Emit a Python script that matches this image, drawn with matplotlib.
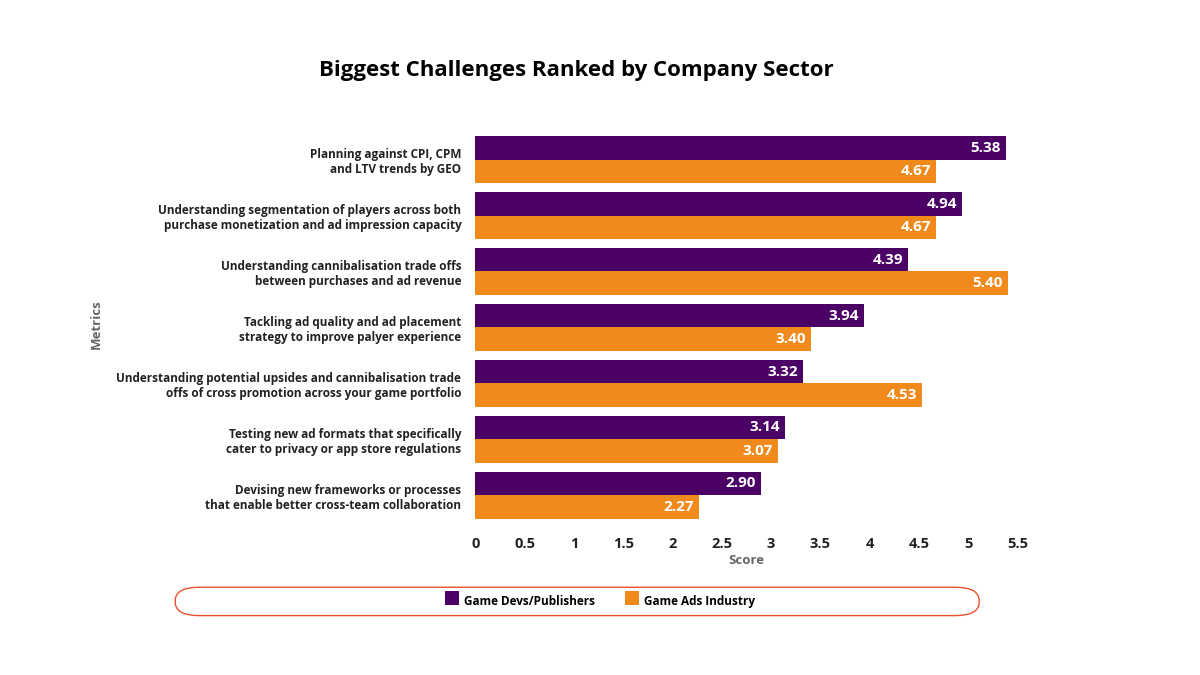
import numpy as np
import matplotlib.pyplot as plt
from matplotlib.patches import FancyBboxPatch

plt.rcParams['font.family'] = ['Open Sans', 'DejaVu Sans']

metrics = [
    "Planning against CPI, CPM\nand LTV trends by GEO",
    "Understanding segmentation of players across both\npurchase monetization and ad impression capacity",
    "Understanding cannibalisation trade offs\nbetween purchases and ad revenue",
    "Tackling ad quality and ad placement\nstrategy to improve palyer experience",
    "Understanding potential upsides and cannibalisation trade\noffs of cross promotion across your game portfolio",
    "Testing new ad formats that specifically\ncater to privacy or app store regulations",
    "Devising new frameworks or processes\nthat enable better cross-team collaboration",
]
devs = [5.38, 4.94, 4.39, 3.94, 3.32, 3.14, 2.90]
ads = [4.67, 4.67, 5.40, 3.40, 4.53, 3.07, 2.27]
ticks = [0, 0.5, 1, 1.5, 2, 2.5, 3, 3.5, 4, 4.5, 5, 5.5]

purple = '#4B0066'
orange = '#F18A1C'

fig = plt.figure(figsize=(12, 6.75), dpi=100)
ax = fig.add_axes([0.396, 0.225, 0.452, 0.58])

y = np.arange(len(metrics))
h = 0.42
ax.barh(y - h / 2, devs, height=h, color=purple, label='Game Devs/Publishers')
ax.barh(y + h / 2, ads, height=h, color=orange, label='Game Ads Industry')
for yi, d, a in zip(y, devs, ads):
    ax.text(d - 0.05, yi - h / 2, f'{d:.2f}', ha='right', va='center',
            color='white', fontsize=11, fontweight='bold')
    ax.text(a - 0.05, yi + h / 2, f'{a:.2f}', ha='right', va='center',
            color='white', fontsize=11, fontweight='bold')

ax.set_ylim(len(metrics) - 0.5, -0.5)
ax.set_xlim(0, 5.5)
ax.set_yticks(y)
ax.set_yticklabels(metrics, fontsize=8.5, fontweight='bold', color='#222222')
ax.set_xticks(ticks)
ax.set_xticklabels([f'{t:g}' for t in ticks], fontsize=10.5, fontweight='bold', color='#222222')
ax.tick_params(length=0, pad=10)
for s in ax.spines.values():
    s.set_visible(False)
ax.set_xlabel('Score', fontsize=9.5, fontweight='bold', color='#666666', labelpad=2)
fig.text(0.08, 0.52, 'Metrics', rotation=90, ha='center', va='center',
         fontsize=9.5, fontweight='bold', color='#666666')

fig.text(0.48, 0.895, 'Biggest Challenges Ranked by Company Sector', ha='center',
         va='center', fontsize=16, fontweight='bold', color='black')

box = FancyBboxPatch((0.146, 0.088), 0.67, 0.042, boxstyle='round,pad=0,rounding_size=0.02',
                     transform=fig.transFigure, fill=False, edgecolor='#E8502E', linewidth=1)
fig.add_artist(box)
leg = fig.legend(loc='center', bbox_to_anchor=(0.5, 0.109), ncol=2, frameon=False,
                 handlelength=0.8, handleheight=0.8, columnspacing=2.5,
                 prop={'size': 8.5, 'weight': 'bold'})
for hnd in leg.legend_handles:
    hnd.set_width(10)
    hnd.set_height(10)
fig.savefig('out.png')
